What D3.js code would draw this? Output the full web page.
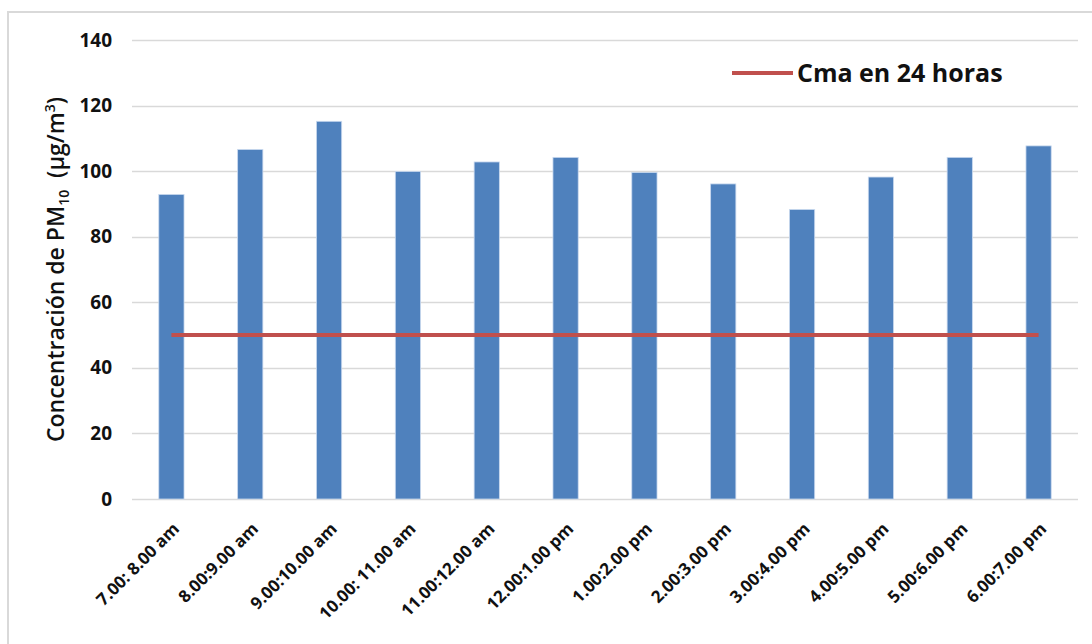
<!DOCTYPE html>
<html>
<head>
<meta charset="utf-8">
<script src="https://cdn.jsdelivr.net/npm/d3@7"></script>
<style>
body { margin: 0; background: #fff; }
svg { font-family: "Open Sans", Lato, sans-serif; }
</style>
</head>
<body>
<svg id="graph"></svg>
<script>
var categories = ["7.00: 8.00 am", "8.00:9.00 am", "9.00:10.00 am", "10.00: 11.00 am", "11.00:12.00 am", "12.00:1.00 pm",
    "1.00:2.00 pm", "2.00:3.00 pm", "3.00:4.00 pm", "4.00:5.00 pm", "5.00:6.00 pm", "6.00:7.00 pm"]
var pm10 = [92.9, 106.6, 115.2, 99.9, 102.8, 104.2, 99.6, 96.1, 88.3, 98.2, 104.2, 107.7]
var cma = [50, 50, 50, 50, 50, 50, 50, 50, 50, 50, 50, 50]
var yTicks = [0, 20, 40, 60, 80, 100, 120, 140]
var legendLabel = "Cma en 24 horas"

var screen = {width: 1092, height: 644}
var plot = {left: 132, right: 1078, top: 40, bottom: 499}

var svg = d3.select("#graph")
    .attr("width", screen.width)
    .attr("height", screen.height)

// outer frame
svg.append("rect")
    .attr("x", 8).attr("y", 12)
    .attr("width", 1100).attr("height", 700)
    .attr("fill", "#fff")
    .attr("stroke", "#d9d9d9")
    .attr("stroke-width", 2)

var xScale = d3.scaleBand()
    .domain(categories)
    .range([plot.left, plot.right])
    .paddingInner(0.68)
    .paddingOuter(0.34)

var yScale = d3.scaleLinear()
    .domain([0, 140])
    .range([plot.bottom, plot.top])

// gridlines
svg.append("g")
    .selectAll("line")
    .data(yTicks)
    .enter()
    .append("line")
    .attr("x1", plot.left)
    .attr("x2", plot.right)
    .attr("y1", function (d) { return Math.round(yScale(d)) + 0.5 })
    .attr("y2", function (d) { return Math.round(yScale(d)) + 0.5 })
    .attr("stroke", "#d9d9d9")
    .attr("stroke-width", 1.5)

// y axis labels
var yAxis = d3.axisLeft(yScale).tickValues(yTicks).tickSize(0).tickPadding(20)
var yg = svg.append("g")
    .attr("transform", "translate(" + plot.left + ",0)")
    .call(yAxis)
    .attr("font-family", "'Open Sans', sans-serif")
    .attr("font-size", 19)
yg.select(".domain").remove()
yg.selectAll("text")
    .attr("font-weight", "bold")
    .attr("fill", "#111")

// bars
svg.append("g")
    .selectAll("rect")
    .data(pm10)
    .enter()
    .append("rect")
    .attr("x", function (d, i) { return xScale(categories[i]) })
    .attr("y", function (d) { return yScale(d) })
    .attr("width", xScale.bandwidth())
    .attr("height", function (d) { return yScale(0) - yScale(d) })
    .attr("fill", "#4f81bd")
    .attr("stroke", "#c9d9ee")
    .attr("stroke-width", 0.8)

// Cma line
var line = d3.line()
    .x(function (d, i) { return xScale(categories[i]) + xScale.bandwidth() / 2 })
    .y(function (d) { return yScale(d) })
svg.append("path")
    .datum(cma)
    .attr("d", line)
    .attr("fill", "none")
    .attr("stroke", "#c0504d")
    .attr("stroke-width", 4)

// x axis labels
var xAxis = d3.axisBottom(xScale).tickSize(0).tickPadding(0)
var xg = svg.append("g")
    .attr("transform", "translate(0," + plot.bottom + ")")
    .call(xAxis)
    .attr("font-family", "'Open Sans', sans-serif")
    .attr("font-size", 17)
xg.select(".domain").remove()
xg.selectAll("text")
    .attr("font-weight", "bold")
    .attr("fill", "#111")
    .attr("text-anchor", "end")
    .attr("dy", 0)
    .attr("transform", "translate(9,31) rotate(-45)")

// y axis title
var title = svg.append("text")
    .attr("transform", "translate(64," + ((plot.top + plot.bottom) / 2) + ") rotate(-90)")
    .attr("text-anchor", "middle")
    .attr("font-family", "'Open Sans', sans-serif")
    .attr("font-size", 23)
    .attr("font-weight", 600)
    .attr("fill", "#111")
title.append("tspan").text("Concentración de PM")
title.append("tspan").attr("font-size", 14).attr("dy", 5).text("10")
title.append("tspan").attr("dy", -5).text("\u00a0 (μg/m")
title.append("tspan").attr("font-size", 14).attr("dy", -9).text("3")
title.append("tspan").attr("dy", 9).text(")")

// legend
svg.append("rect")
    .attr("x", 730).attr("y", 46)
    .attr("width", 290).attr("height", 54)
    .attr("fill", "#fff")
svg.append("line")
    .attr("x1", 732).attr("x2", 793)
    .attr("y1", 73).attr("y2", 73)
    .attr("stroke", "#c0504d")
    .attr("stroke-width", 4)
svg.append("text")
    .attr("x", 797).attr("y", 82)
    .attr("font-family", "'Open Sans', sans-serif")
    .attr("font-size", 25)
    .attr("font-weight", "bold")
    .attr("fill", "#111")
    .text(legendLabel)
</script>
</body>
</html>
